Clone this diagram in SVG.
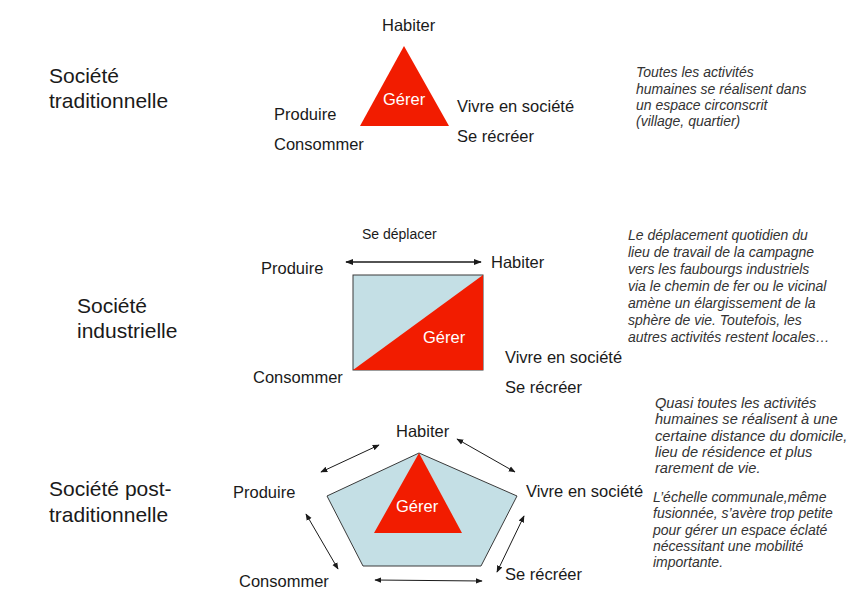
<svg xmlns="http://www.w3.org/2000/svg" width="862" height="607" viewBox="0 0 862 607">
<defs>
<style>
text{font-family:"Liberation Sans",Arial,sans-serif;fill:#1a1a1a}
.soc{font-size:21px}
.lbl{font-size:16.5px}
.g{font-size:16.5px;fill:#ffffff}
.note{font-size:14px;font-style:italic;fill:#333333}
.note15{font-size:14.6px;font-style:italic;fill:#333333}
.red{fill:#f21c00}
.blue{fill:#c4dfe5;stroke:#3a3a3a;stroke-width:1}
.arr{stroke:#1a1a1a;stroke-width:1;fill:none;marker-start:url(#ah);marker-end:url(#ah)}
.arr2{stroke:#1a1a1a;stroke-width:1.5;fill:none;marker-start:url(#ah2);marker-end:url(#ah2)}
</style>
<marker id="ah" viewBox="0 0 10 10" refX="9" refY="5" markerWidth="7" markerHeight="7" markerUnits="userSpaceOnUse" orient="auto-start-reverse">
<path d="M0,1 L10,5 L0,9 z" fill="#1a1a1a"/>
</marker>
<marker id="ah2" viewBox="0 0 10 10" refX="9" refY="5" markerWidth="8" markerHeight="8" markerUnits="userSpaceOnUse" orient="auto-start-reverse">
<path d="M0,1 L10,5 L0,9 z" fill="#1a1a1a"/>
</marker>
</defs>
<rect x="0" y="0" width="862" height="607" fill="#ffffff"/>

<g id="titles">
<text class="soc" x="49" y="83">Société</text>
<text class="soc" x="49" y="108">traditionnelle</text>
<text class="soc" x="77" y="313">Société</text>
<text class="soc" x="77" y="338">industrielle</text>
<text class="soc" x="49" y="496">Société post-</text>
<text class="soc" x="49" y="522">traditionnelle</text>
</g>

<g id="traditional">
<polygon class="red" points="404,46 360,126 449,126"/>
<text class="g" x="383" y="105">Gérer</text>
<text class="lbl" x="382" y="31">Habiter</text>
<text class="lbl" x="274" y="120">Produire</text>
<text class="lbl" x="274" y="150">Consommer</text>
<text class="lbl" x="457" y="112">Vivre en société</text>
<text class="lbl" x="457" y="142">Se récréer</text>
</g>

<g id="industrial">
<rect class="blue" x="353" y="275" width="130" height="95"/>
<polygon class="red" points="353,370 483,275 483,370"/>
<text class="g" x="423" y="343">Gérer</text>
<text x="362" y="239" style="font-size:14px">Se déplacer</text>
<text class="lbl" x="261" y="274">Produire</text>
<text class="lbl" x="491" y="268">Habiter</text>
<text class="lbl" x="253" y="383">Consommer</text>
<text class="lbl" x="505" y="363">Vivre en société</text>
<text class="lbl" x="505" y="393">Se récréer</text>
</g>

<g id="posttraditional">
<polygon class="blue" points="419,453 517,496 481,566 363,566 327,496"/>
<polygon class="red" points="419,453 374,533 462,533"/>
<text class="g" x="396" y="512">Gérer</text>
<text class="lbl" x="396" y="437">Habiter</text>
<text class="lbl" x="233" y="498">Produire</text>
<text class="lbl" x="526" y="497">Vivre en société</text>
<text class="lbl" x="239" y="587">Consommer</text>
<text class="lbl" x="505" y="580">Se récréer</text>
</g>

<g id="connectors">
<line class="arr2" x1="346" y1="262" x2="481" y2="262"/>
<line class="arr" x1="379" y1="445" x2="321" y2="472"/>
<line class="arr" x1="457" y1="439" x2="515" y2="472"/>
<line class="arr" x1="306" y1="514" x2="338" y2="569"/>
<line class="arr" x1="524" y1="516" x2="497" y2="572"/>
<line class="arr" x1="375" y1="580" x2="482" y2="581"/>
</g>

<g id="notes">
<text class="note" x="636" y="77">Toutes les activités</text>
<text class="note" x="636" y="94">humaines se réalisent dans</text>
<text class="note" x="636" y="110">un espace circonscrit</text>
<text class="note" x="636" y="126">(village, quartier)</text>

<text class="note" x="628" y="240">Le déplacement quotidien du</text>
<text class="note" x="628" y="257">lieu de travail de la campagne</text>
<text class="note" x="628" y="274">vers les faubourgs industriels</text>
<text class="note" x="628" y="291">via le chemin de fer ou le vicinal</text>
<text class="note" x="628" y="308">amène un élargissement de la</text>
<text class="note" x="628" y="325">sphère de vie. Toutefois, les</text>
<text class="note" x="628" y="342">autres activités restent locales…</text>

<text class="note15" x="655" y="408">Quasi toutes les activités</text>
<text class="note15" x="655" y="424">humaines se réalisent à une</text>
<text class="note15" x="655" y="441">certaine distance du domicile,</text>
<text class="note15" x="655" y="457">lieu de résidence et plus</text>
<text class="note15" x="655" y="473">rarement de vie.</text>

<text class="note" x="653" y="502">L’échelle communale,même</text>
<text class="note" x="653" y="518">fusionnée,  s’avère trop petite</text>
<text class="note" x="653" y="535">pour gérer un espace éclaté</text>
<text class="note" x="653" y="551">nécessitant une mobilité</text>
<text class="note" x="653" y="567">importante.</text>
</g>
</svg>
